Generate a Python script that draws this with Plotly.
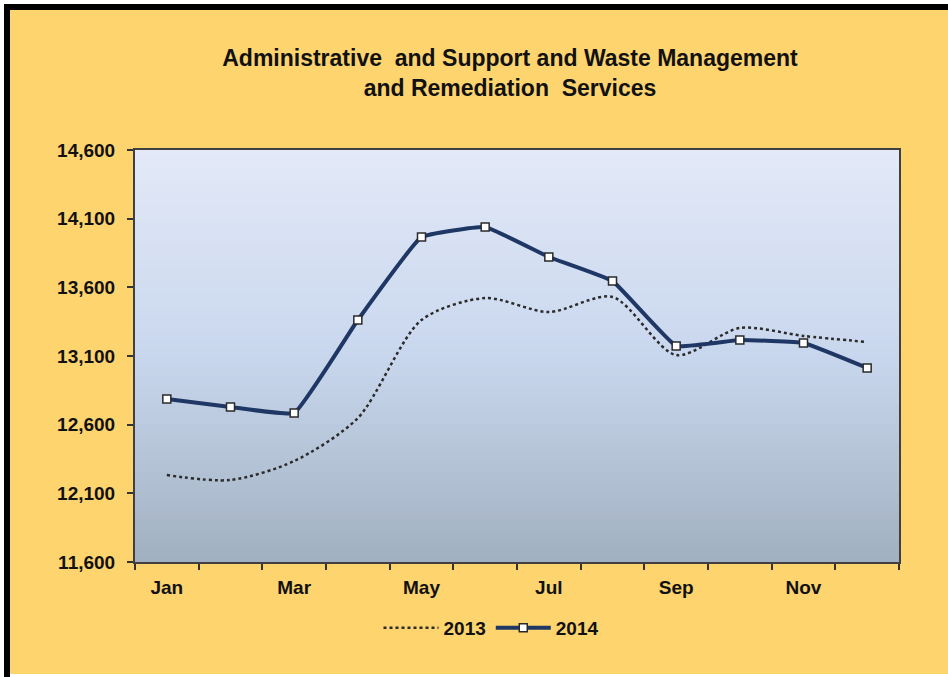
import plotly.graph_objects as go

months = ["Jan", "Feb", "Mar", "Apr", "May", "Jun", "Jul", "Aug", "Sep", "Oct", "Nov", "Dec"]
tick_labels = ["Jan", "", "Mar", "", "May", "", "Jul", "", "Sep", "", "Nov", ""]
values_2013 = [12233, 12197, 12335, 12648, 13362, 13522, 13420, 13530, 13107, 13304, 13246, 13202]
values_2014 = [12787, 12729, 12685, 13362, 13966, 14039, 13821, 13646, 13173, 13216, 13195, 13013]
y_ticks = [11600, 12100, 12600, 13100, 13600, 14100, 14600]

W, H = 948, 677
L, R, T, B = 135, 49, 150, 115
PW, PH = W - L - R, H - T - B


def px(x):
    return (x - L) / PW


def py(y):
    return (H - B - y) / PH


ORANGE = "#FED46F"
FONT = "Liberation Sans, Arial, sans-serif"

fig = go.Figure()

fig.add_trace(go.Scatter(
    x=months, y=values_2013, name="<b>2013</b>", mode="lines",
    line=dict(color="#2B2B2B", width=2.5, dash="dot", shape="spline", smoothing=0.8),
))
fig.add_trace(go.Scatter(
    x=months, y=values_2014, name="<b>2014</b>", mode="lines+markers",
    line=dict(color="#1E3764", width=4, shape="spline", smoothing=0.3),
    marker=dict(symbol="square", size=8, color="white", line=dict(color="#2A2A2A", width=1.5)),
))

shapes = []
# orange card with black left/top edge
shapes.append(dict(type="rect", xref="paper", yref="paper", x0=px(5), x1=px(960), y0=py(674), y1=py(5),
                   fillcolor=ORANGE, line=dict(width=0), layer="below"))
shapes.append(dict(type="rect", xref="paper", yref="paper", x0=px(4), x1=px(10), y0=py(677), y1=py(4),
                   fillcolor="black", line=dict(width=0), layer="below"))
shapes.append(dict(type="rect", xref="paper", yref="paper", x0=px(4), x1=px(960), y0=py(10), y1=py(4),
                   fillcolor="black", line=dict(width=0), layer="below"))

# vertical gradient in plot area
top = (227, 233, 247)
mid = (201, 215, 238)
bot = (161, 176, 192)
n = 60
for i in range(n):
    t = (i + 0.5) / n  # 0 at top, 1 at bottom
    if t < 0.5:
        u = t / 0.5
        c = tuple(round(top[k] + (mid[k] - top[k]) * u) for k in range(3))
    else:
        u = (t - 0.5) / 0.5
        c = tuple(round(mid[k] + (bot[k] - mid[k]) * u) for k in range(3))
    shapes.append(dict(type="rect", xref="x domain", yref="y domain", x0=0, x1=1,
                       y0=1 - (i + 1) / n, y1=1 - i / n + 0.002,
                       fillcolor="rgb(%d,%d,%d)" % c, line=dict(width=0), layer="below"))

fig.update_layout(
    width=W, height=H,
    margin=dict(l=L, r=R, t=T, b=B),
    paper_bgcolor="white",
    plot_bgcolor="rgba(0,0,0,0)",
    shapes=shapes,
    title=dict(
        text="<b>Administrative  and Support and Waste Management<br>and Remediation  Services</b>",
        x=510 / W, xanchor="center", xref="container",
        y=1 - 66 / H, yanchor="middle", yref="container",
        font=dict(family=FONT, size=23, color="#111111"),
    ),
    showlegend=True,
    legend=dict(
        orientation="h", x=px(491), xanchor="center", y=py(628), yanchor="middle",
        bgcolor="rgba(0,0,0,0)", font=dict(family=FONT, size=19, color="#111111"),
        itemwidth=55, traceorder="normal",
    ),
    font=dict(family=FONT),
)

fig.update_xaxes(
    type="category", tickmode="array", tickvals=months,
    ticktext=["<b>%s</b>" % t if t else "" for t in tick_labels],
    tickson="boundaries", ticks="outside", ticklen=6, tickwidth=1.5, tickcolor="#333333",
    showline=True, linecolor="#404040", linewidth=2, mirror=True,
    showgrid=False, zeroline=False, range=[-0.5, 11.5],
    ticklabelstandoff=7,
    tickfont=dict(family=FONT, size=19, color="#111111"),
)
fig.update_yaxes(
    range=[11600, 14600], tickmode="array",
    tickvals=y_ticks,
    ticktext=["<b>{:,}</b>".format(v) for v in y_ticks],
    ticks="outside", ticklen=6, tickwidth=1.5, tickcolor="#333333",
    showline=True, linecolor="#404040", linewidth=2, mirror=True,
    showgrid=False, zeroline=False,
    ticklabelstandoff=8,
    tickfont=dict(family=FONT, size=19, color="#111111"),
)

fig.write_html("out.html", config={"displayModeBar": False},
               post_script="document.body.style.margin='0';document.body.style.padding='0';")
